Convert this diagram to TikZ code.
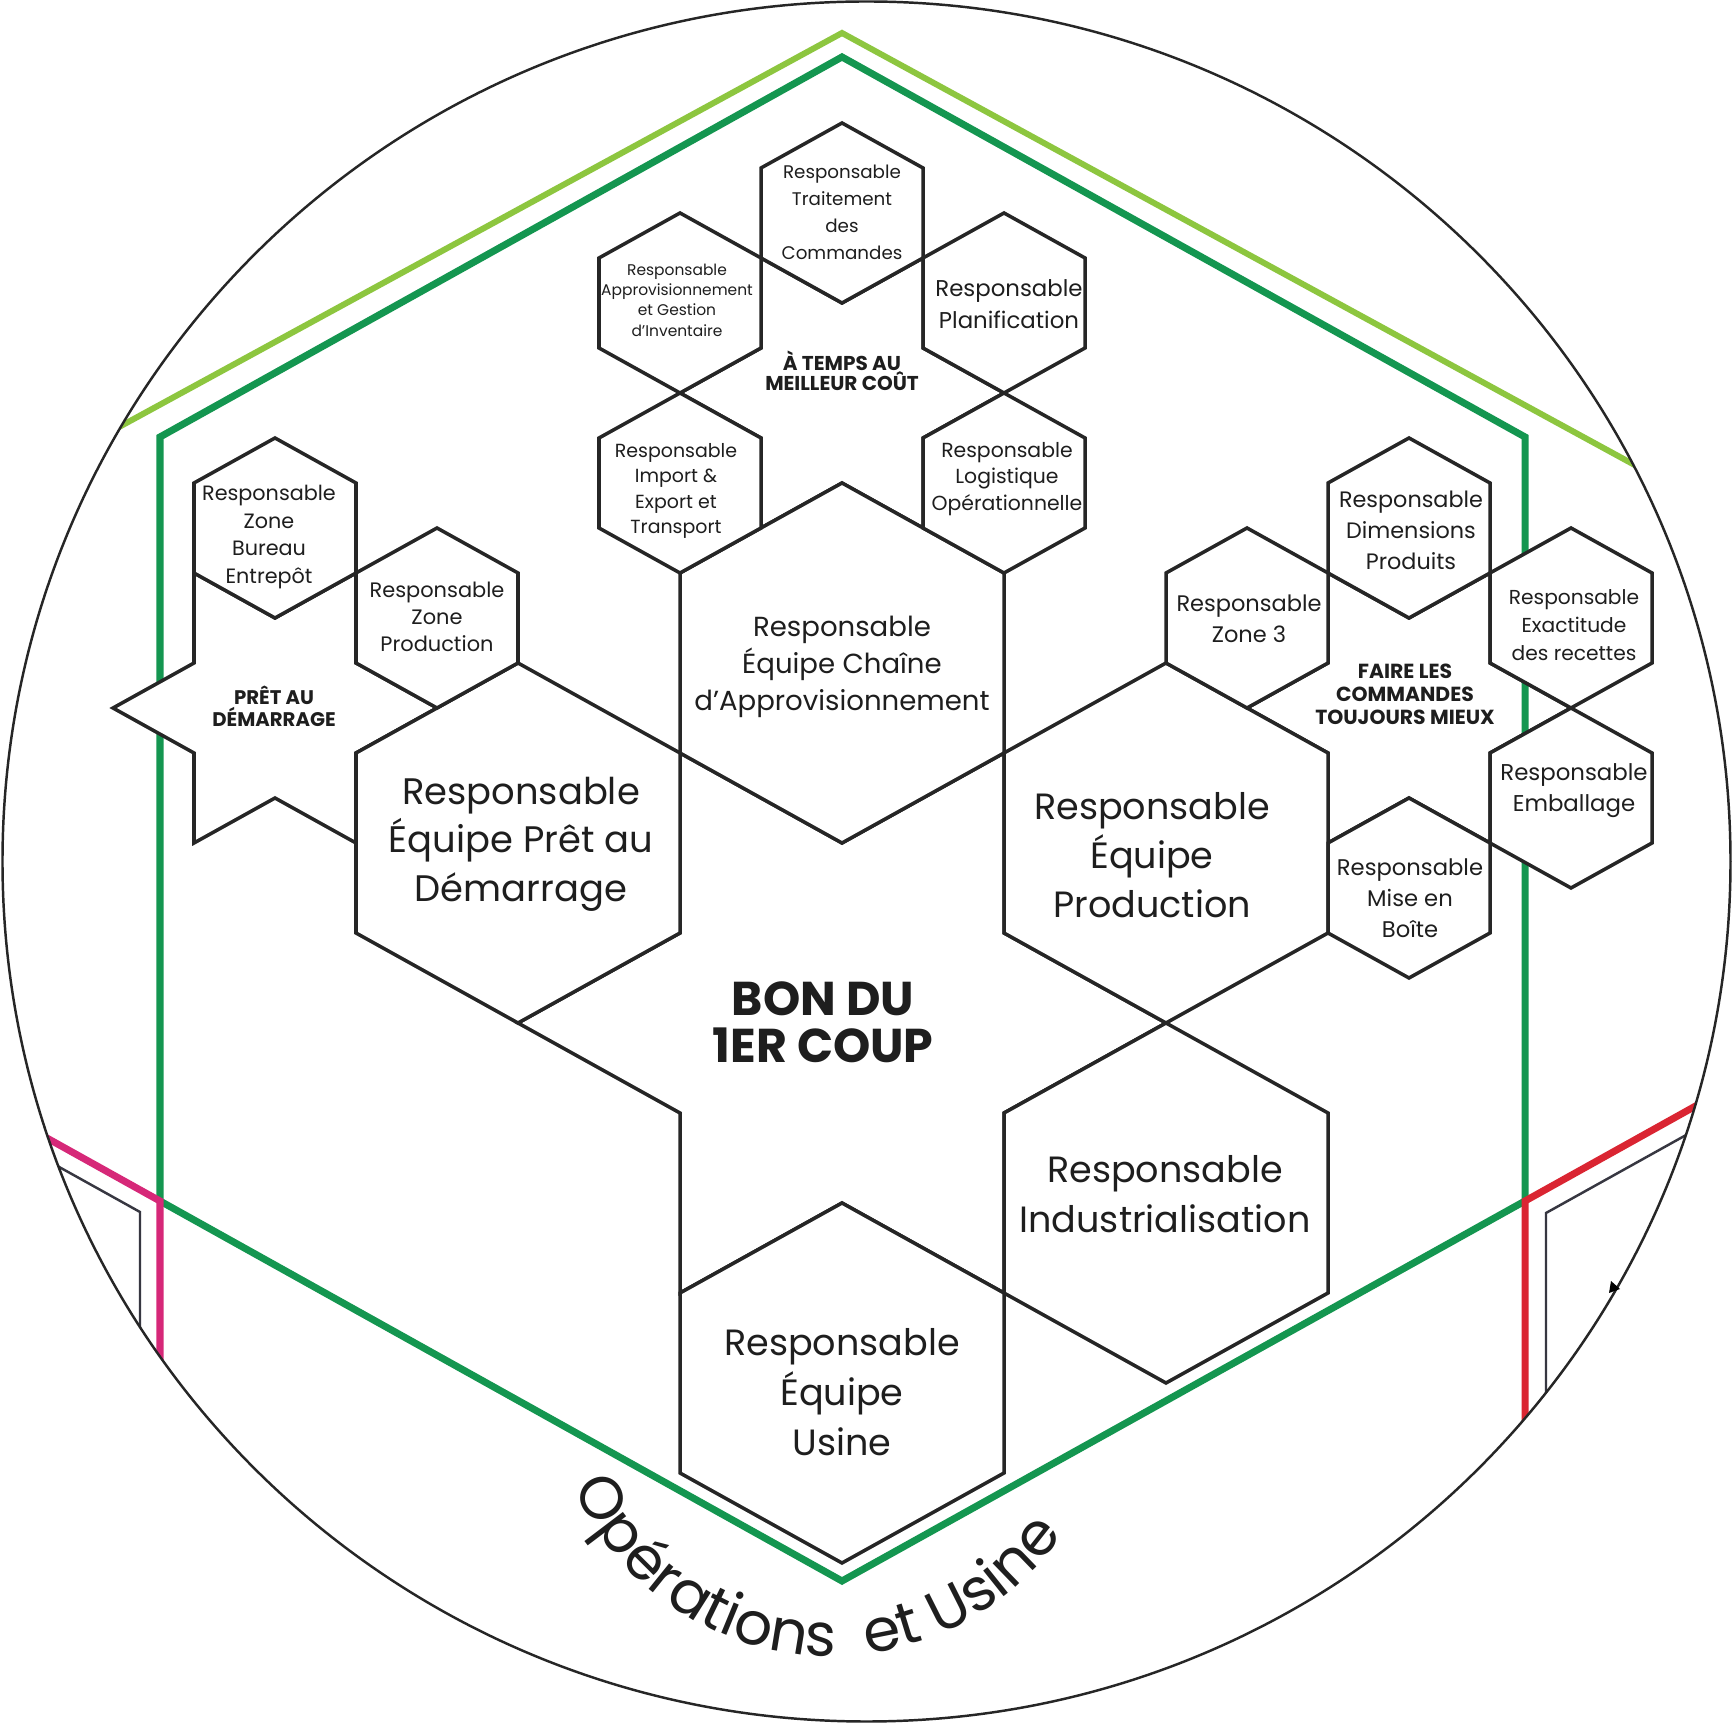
\documentclass[tikz,border=0pt]{standalone}
\usepackage{fontspec}
\setmainfont{Poppins}
\usetikzlibrary{decorations.text}
\definecolor{dgreen}{RGB}{20,150,80}
\definecolor{lgreen}{RGB}{141,198,63}
\definecolor{magen}{RGB}{214,40,120}
\definecolor{redl}{RGB}{218,37,50}
\definecolor{hexc}{RGB}{38,38,38}
\definecolor{thinc}{RGB}{55,55,65}
\definecolor{txtc}{RGB}{30,30,30}
% hexagon: #2=x, #3=y, #4=half width, #5=half side
\newcommand\hexdraw[5][]{\filldraw[hexline,#1] (#2,#3-2*#5) -- (#2+#4,#3-#5) -- (#2+#4,#3+#5) -- (#2,#3+2*#5) -- (#2-#4,#3+#5) -- (#2-#4,#3-#5) -- cycle;}
% inner star of a ring of six hexagons
\newcommand\stardraw[5][]{\filldraw[hexline,#1] (#2-#4,#3-3*#5) -- (#2,#3-2*#5) -- (#2+#4,#3-3*#5) -- (#2+#4,#3-#5) -- (#2+2*#4,#3) -- (#2+#4,#3+#5) -- (#2+#4,#3+3*#5) -- (#2,#3+2*#5) -- (#2-#4,#3+3*#5) -- (#2-#4,#3+#5) -- (#2-2*#4,#3) -- (#2-#4,#3-#5) -- cycle;}
\newcommand\fs[2]{\fontsize{#1}{#2}\selectfont}
\begin{document}
\begin{tikzpicture}[x=0.1mm,y=-0.1mm,
  hexline/.style={draw=hexc, line width=1pt, line join=miter, fill=white},
  lab/.style={align=center, inner sep=0pt, text=txtc},
  frame/.style={line width=2pt, line join=miter},
  thin/.style={draw=thinc, line width=0.7pt, line join=miter}]
\fill[white] (0,0) rectangle (1733,1723);
\useasboundingbox (0,0) rectangle (1733,1723);
% coloured frames, clipped by the circle
\begin{scope}
\clip (866.5,861.5) ellipse [x radius=864, y radius=860];
\draw[frame, lgreen, line width=1.7pt] (842-1000,33+545) -- (842,33) -- (842+1000,33+545);
\draw[frame, dgreen] (842,57) -- (1525,437) -- (1525,1201) -- (842,1581) -- (160,1201) -- (160,437) -- cycle;
\draw[frame, magen] (160-300,1201-167) -- (160,1201) -- (160,1550);
\draw[thin] (140-300,1212-167) -- (140,1212) -- (140,1550);
\draw[frame, redl] (1525+300,1201-167) -- (1525,1201) -- (1525,1550);
\draw[thin] (1546+300,1213-167) -- (1546,1213) -- (1546,1550);
\end{scope}
\draw[hexc, line width=0.7pt] (866.5,861.5) ellipse [x radius=864, y radius=860];
\fill[black] (1611,1281) -- (1620,1289) -- (1609,1293) -- cycle;
% hexagon centres
\coordinate (C) at (842,1023);
\coordinate (Ct) at (842,393);
\coordinate (Cl) at (275,708);
\coordinate (Cr) at (1409,708);
% stars
\stardraw[fill=none]{842}{1023}{162}{90}
\stardraw[fill=none]{842}{393}{81}{45}
\stardraw[fill=none]{1409}{708}{81}{45}
\stardraw{275}{708}{81}{45}
% big hexagons
\hexdraw{842}{663}{162}{90}
\hexdraw{518}{843}{162}{90}
\hexdraw{1166}{843}{162}{90}
\hexdraw{1166}{1203}{162}{90}
\hexdraw{842}{1383}{162}{90}
% small hexagons, top cluster
\hexdraw{842}{213}{81}{45}
\hexdraw{1004}{303}{81}{45}
\hexdraw{1004}{483}{81}{45}
\hexdraw{680}{483}{81}{45}
\hexdraw{680}{303}{81}{45}
% left cluster
\hexdraw{275}{528}{81}{45}
\hexdraw{437}{618}{81}{45}
% right cluster
\hexdraw{1409}{528}{81}{45}
\hexdraw{1571}{618}{81}{45}
\hexdraw{1571}{798}{81}{45}
\hexdraw{1409}{888}{81}{45}
\hexdraw{1247}{618}{81}{45}
% texts, big
\node[lab, font=\fs{7.85}{10.5}] (tchain) at (842,667) {Responsable\\Équipe Chaîne\\d’Approvisionnement};
\node[lab, font=\fs{10.5}{13.8}] (tpret) at (521,844) {Responsable\\Équipe Prêt au\\Démarrage};
\node[lab, font=\fs{10.4}{13.9}] (tprod) at (1152,855) {Responsable\\Équipe\\Production};
\node[lab, font=\fs{10.4}{14.2}] (tindus) at (1165,1194) {Responsable\\Industrialisation};
\node[lab, font=\fs{10.4}{14.2}] (tusine) at (842,1392) {Responsable\\Équipe\\Usine};
\node[lab, font=\bfseries\fs{13.5}{13.3}] (tbon) at (823,1022) {BON DU\\1ER COUP};
% texts, top cluster
\node[lab, font=\fs{5.2}{7.7}] (ttrait) at (842,212) {Responsable\\Traitement\\des\\Commandes};
\node[lab, font=\fs{4.4}{5.8}] (tappro) at (677,300) {Responsable\\Approvisionnement\\et Gestion\\d’Inventaire};
\node[lab, font=\fs{6.5}{9.1}] (tplan) at (1009,304) {Responsable\\Planification};
\node[lab, font=\fs{5.4}{7.2}] (timpo) at (676,491) {Responsable\\Import \&\\Export et\\Transport};
\node[lab, font=\fs{5.8}{7.5}] (tlogi) at (1007,479) {Responsable\\Logistique\\Opérationnelle};
\node[lab, font=\bfseries\fs{5.7}{5.8}] (ttemps) at (842,371) {À TEMPS AU\\MEILLEUR COÛT};
% texts, left cluster
\node[lab, font=\fs{5.9}{7.9}] (tbureau) at (269,537) {Responsable\\Zone\\Bureau\\Entrepôt};
\node[lab, font=\fs{5.95}{7.7}] (tzprod) at (437,617) {Responsable\\Zone\\Production};
\node[lab, font=\bfseries\fs{5.6}{6.3}] (tpretc) at (274,706) {PRÊT AU\\DÉMARRAGE};
% texts, right cluster
\node[lab, font=\fs{6.35}{8.8}] (tdim) at (1411,530) {Responsable\\Dimensions\\Produits};
\node[lab, font=\fs{6.4}{8.8}] (tzone3) at (1249,619) {Responsable\\Zone 3};
\node[lab, font=\fs{5.75}{8.0}] (texact) at (1574,625) {Responsable\\Exactitude\\des recettes};
\node[lab, font=\fs{6.5}{8.8}] (temb) at (1574,791) {Responsable\\Emballage};
\node[lab, font=\fs{6.45}{8.8}] (tmise) at (1410,898) {Responsable\\Mise en\\Boîte};
\node[lab, font=\bfseries\fs{5.8}{6.5}] (tfaire) at (1405,694) {FAIRE LES\\COMMANDES\\TOUJOURS MIEUX};
% curved title
\path[decorate, decoration={text along path, text align=center,
  text={|\fs{17}{17}\color{txtc}|Opérations {\hspace{0.25em}}et Usine}}]
  (831,1375) ++(158:281) arc[start angle=158, end angle=33, radius=281];
\end{tikzpicture}
\end{document}
